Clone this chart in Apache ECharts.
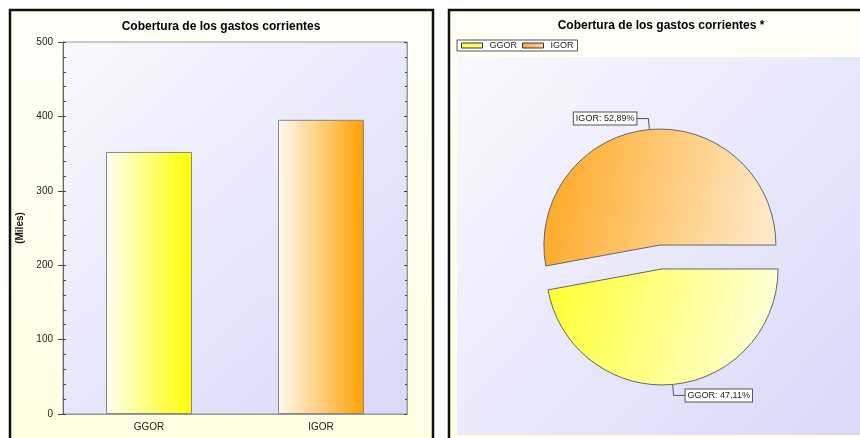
<!DOCTYPE html>
<html>
<head>
<meta charset="utf-8">
<script src="https://cdn.jsdelivr.net/npm/echarts@6/dist/echarts.min.js"></script>
<style>
html,body{margin:0;padding:0;background:#ffffff;}
#chart{width:860px;height:438px;}
</style>
</head>
<body>
<div id="chart"></div>
<script>
// ---- data ----
var categories = ['GGOR', 'IGOR'];
var values = [352.2, 395.4];
var barTitle = 'Cobertura de los gastos corrientes';
var pieTitle = 'Cobertura de los gastos corrientes *';
var yAxisName = '(Miles)';
var yMin = 0, yMax = 500, yStep = 100;

// ---- styles ----
var FONT = 'Arial, "Liberation Sans", sans-serif';
var barColors = [
  ['#FFFFF2', '#FFFF00'],
  ['#FFFAF2', '#FFA000']
];
var pieColors = [
  ['#FFFF30', '#FFFFDC', 0, 0, 1, 0.5],
  ['#FDA61E', '#FFE8C6', 0, 0, 1, 0.3]
];
var legendIconColors = [
  ['#FFFF40', '#FFFF70'],
  ['#FFA838', '#FFD8A0']
];
function lin(x, y, x2, y2, c1, c2) {
  return new echarts.graphic.LinearGradient(x, y, x2, y2, [
    { offset: 0, color: c1 }, { offset: 1, color: c2 }
  ]);
}

var chart = echarts.init(document.getElementById('chart'), null, { renderer: 'canvas' });

var barData = categories.map(function (c, i) {
  return {
    name: c,
    value: values[i],
    itemStyle: { color: lin(0, 0, 1, 0, barColors[i][0], barColors[i][1]) }
  };
});
var pieData = categories.map(function (c, i) {
  var p = pieColors[i];
  return {
    name: c,
    value: values[i],
    selected: true,
    itemStyle: { color: lin(p[2], p[3], p[4], p[5], p[0], p[1]) }
  };
});
var legendData = categories.map(function (c, i) {
  return {
    name: c,
    itemStyle: {
      color: lin(0, 0, 1, 0, legendIconColors[i][0], legendIconColors[i][1]),
      borderColor: '#333', borderWidth: 1
    }
  };
});

var option = {
  animation: false,
  backgroundColor: '#ffffff',
  textStyle: { fontFamily: FONT },
  graphic: [
    { type: 'rect', z: -20, shape: { x: 10, y: 10, width: 423, height: 440 },
      style: { fill: lin(0, 0, 0, 1, '#FFFFF8', '#FFFFE2'), stroke: '#111', lineWidth: 2.5 } },
    { type: 'rect', z: -20, shape: { x: 449, y: 10, width: 430, height: 440 },
      style: { fill: lin(0, 0, 0, 1, '#FFFFF8', '#FFFFE2'), stroke: '#111', lineWidth: 2.5 } },
    { type: 'rect', z: -19, shape: { x: 457, y: 57, width: 420, height: 378 },
      style: { fill: lin(0, 0, 1, 1, '#F9F9FF', '#D8D8F8') } },
    { type: 'text', z: 10, x: 221, y: 27,
      style: { text: barTitle, fill: '#000', font: 'bold 12px ' + FONT, align: 'center', verticalAlign: 'middle' } },
    { type: 'text', z: 10, x: 661, y: 26,
      style: { text: pieTitle, fill: '#000', font: 'bold 12px ' + FONT, align: 'center', verticalAlign: 'middle' } }
  ],
  legend: {
    data: legendData,
    left: 457,
    top: 40,
    orient: 'horizontal',
    icon: 'rect',
    itemWidth: 21,
    itemHeight: 5,
    itemGap: 5,
    padding: [1, 4, 1, 4],
    backgroundColor: '#ffffff',
    borderColor: '#555',
    borderWidth: 1,
    borderRadius: 0,
    selectedMode: false,
    textStyle: { fontSize: 9, color: '#222', fontFamily: FONT, padding: [0, 0, 0, 2] }
  },
  grid: {
    left: 63, top: 42, width: 344, height: 372,
    show: true,
    backgroundColor: lin(0, 0, 1, 1, '#F9F9FF', '#D8D8F8'),
    borderColor: '#999',
    borderWidth: 1,
    containLabel: false
  },
  xAxis: [
    {
      type: 'category', data: categories, position: 'bottom',
      axisLine: { lineStyle: { color: '#777' } },
      axisTick: { alignWithLabel: true, length: 5, lineStyle: { color: '#444' } },
      axisLabel: { fontSize: 10, color: '#222', margin: 8, fontFamily: FONT },
      splitLine: { show: false }
    },
    {
      type: 'category', data: categories, position: 'top',
      axisLine: { lineStyle: { color: '#999' } },
      axisTick: { alignWithLabel: true, inside: true, length: 3, lineStyle: { color: '#444' } },
      axisLabel: { show: false },
      splitLine: { show: false }
    }
  ],
  yAxis: [
    {
      type: 'value', position: 'left', min: yMin, max: yMax, interval: yStep,
      name: yAxisName, nameLocation: 'middle', nameGap: 38,
      nameTextStyle: { fontWeight: 'bold', fontSize: 10, color: '#111', fontFamily: FONT },
      axisLine: { show: true, lineStyle: { color: '#666' } },
      axisTick: { show: true, length: 5, lineStyle: { color: '#444' } },
      axisLabel: { fontSize: 10, color: '#222', margin: 10, fontFamily: FONT },
      splitLine: { show: false }
    },
    {
      type: 'value', position: 'left', min: yMin, max: yMax, interval: yStep,
      axisLine: { show: false },
      axisTick: { show: true, inside: true, length: 3, lineStyle: { color: '#444' } },
      minorTick: { show: true, splitNumber: 5, length: 3, lineStyle: { color: '#444' } },
      axisLabel: { show: false },
      splitLine: { show: false }
    },
    {
      type: 'value', position: 'right', min: yMin, max: yMax, interval: yStep,
      axisLine: { show: true, lineStyle: { color: '#999' } },
      axisTick: { show: true, inside: true, length: 3, lineStyle: { color: '#444' } },
      minorTick: { show: true, splitNumber: 5, length: 2, lineStyle: { color: '#444' } },
      axisLabel: { show: false },
      splitLine: { show: false }
    }
  ],
  series: [
    {
      type: 'bar',
      xAxisIndex: 0, yAxisIndex: 0,
      barWidth: '50%',
      data: barData,
      itemStyle: { borderColor: '#888', borderWidth: 1 },
      emphasis: { disabled: true }
    },
    {
      type: 'pie',
      name: 'pie',
      center: [661, 257],
      radius: 116,
      startAngle: 0,
      clockwise: true,
      selectedMode: 'multiple',
      selectedOffset: 12,
      percentPrecision: 2,
      avoidLabelOverlap: false,
      data: pieData,
      itemStyle: { borderColor: '#666', borderWidth: 1 },
      emphasis: { disabled: true, scale: false },
      select: { itemStyle: { borderColor: '#666', borderWidth: 1 } },
      label: {
        show: true,
        position: 'outside',
        distanceToLabelLine: 0,
        formatter: function (p) {
          return p.name + ': ' + p.percent.toFixed(2).replace('.', ',') + '%';
        },
        fontSize: 9,
        fontFamily: FONT,
        color: '#222',
        backgroundColor: '#ffffff',
        borderColor: '#555',
        borderWidth: 1,
        padding: [2, 2, 1, 2]
      },
      labelLine: {
        show: true,
        length: 11,
        length2: 12,
        smooth: false,
        lineStyle: { color: '#555', width: 1 }
      }
    }
  ]
};
chart.setOption(option);
</script>
</body>
</html>
